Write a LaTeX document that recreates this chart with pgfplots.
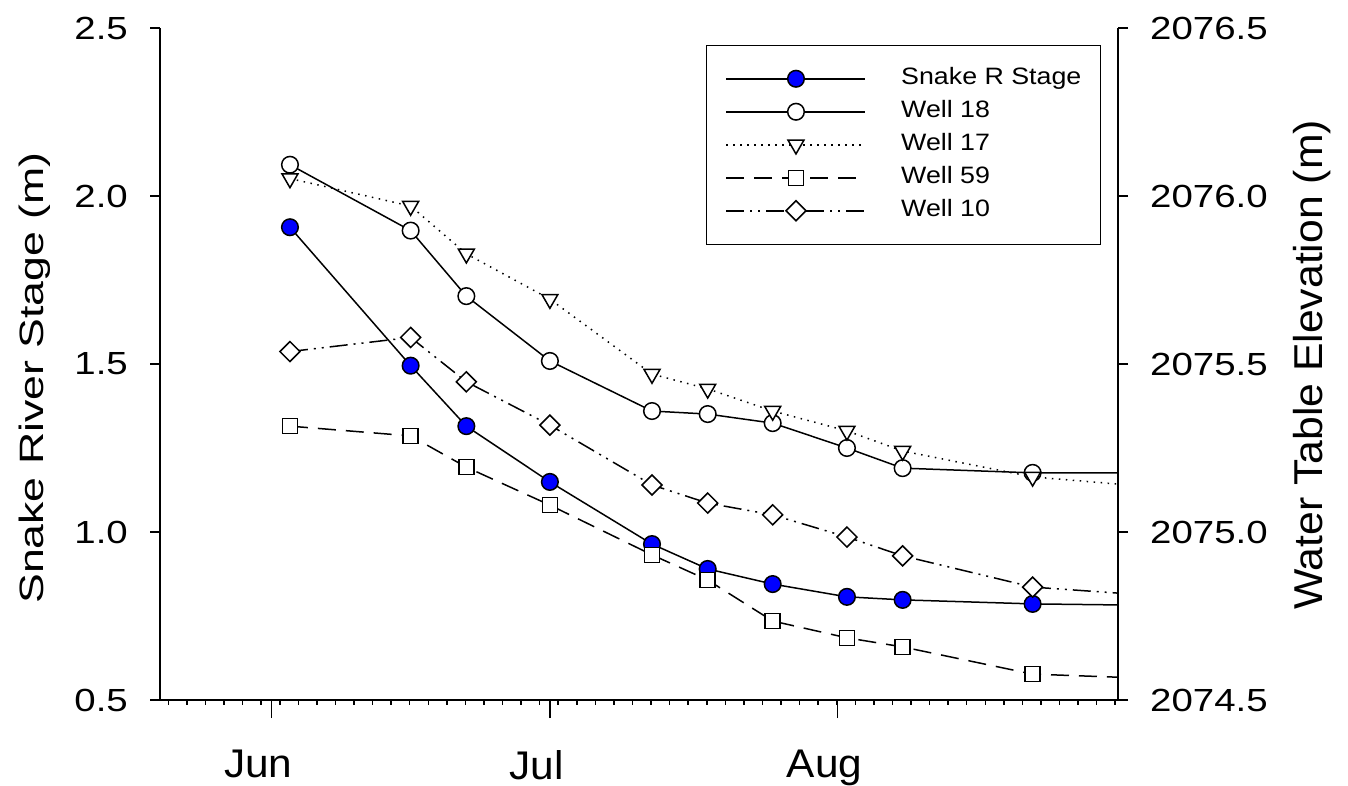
\documentclass[border=0pt]{standalone}
\usepackage{pgfplots}
\usepackage{pgfplotstable}
\pgfplotsset{compat=1.18}
\usepackage{fontspec}
\setmainfont{Liberation Sans}
\newfontfamily\ytf[FakeStretch=1.2]{Liberation Sans}
\newfontfamily\xtf[FakeStretch=1.06]{Liberation Sans}
\newfontfamily\lylf[FakeStretch=1.32]{Liberation Sans}
\newfontfamily\rylf[FakeStretch=1.06]{Liberation Sans}
\newfontfamily\lgf[FakeStretch=1.13]{Liberation Sans}

% x = days after 1 June
\pgfplotstableread{
x   snake  w18      w17      w59      w10
2   1.907  2076.093 2076.052 2075.315 2075.537
15  1.495  2075.897 2075.970 2075.286 2075.579
21  1.315  2075.702 2075.828 2075.193 2075.447
30  1.149  2075.509 2075.693 2075.080 2075.318
41  0.964  2075.360 2075.470 2074.932 2075.140
47  0.890  2075.351 2075.426 2074.857 2075.086
54  0.845  2075.324 2075.360 2074.735 2075.051
62  0.807  2075.250 2075.301 2074.685 2074.985
68  0.798  2075.190 2075.241 2074.658 2074.929
82  0.786  2075.176 2075.164 2074.577 2074.836
100 0.780  2075.176 2075.122 2074.559 2074.801
}\data

\begin{document}
\begin{tikzpicture}
\useasboundingbox (0,0) rectangle (1348pt,786pt);
\pgfplotsset{
  common/.style={at={(160pt,86pt)}, anchor=south west, scale only axis,
    width=958pt, height=672pt, xmin=-12, xmax=91.2,
    tick align=outside,
    axis line style={line width=1.5pt, black},
    tick style={line width=1.5pt, black},
    minor tick style={line width=1.5pt, black},
    /pgf/number format/.cd, fixed, fixed zerofill, precision=1, 1000 sep={}, assume math mode=true},
  legend image code/.code={\draw[mark repeat=2,mark phase=2,#1] plot coordinates {(0pt,0pt) (69.5pt,0pt) (139pt,0pt)};},
}
% x axis
\begin{axis}[common, ymin=0.5, ymax=2.5, axis x line*=bottom, axis y line=none,
  xtick={0,30,61}, xticklabels={Jun,Jul,Aug},
  minor xtick={-11.1,-9.1,...,90.95},
  major tick length=18pt, minor tick length=5pt,
  xticklabel style={font=\xtf\fontsize{40}{48}\selectfont, inner sep=0pt, anchor=north, xshift=-13pt, yshift=-32pt}]
\end{axis}
% left axis
\begin{axis}[common, ymin=0.5, ymax=2.5, axis x line=none, axis y line*=left,
  ytick={0.5,1.0,1.5,2.0,2.5}, major tick length=10pt,
  yticklabel style={font=\ytf\fontsize{32}{38}\selectfont, inner sep=0pt, anchor=east, xshift=-22pt},
  ylabel={Snake River Stage (m)},
  ylabel style={font=\lylf\fontsize{33.8}{40}\selectfont, at={(axis description cs:-0.1305,0.479)}, anchor=center, inner sep=0pt}]
\addplot[black, line width=1.5pt, mark=*, mark size=8.3pt, mark options={solid, fill=blue, draw=black, line width=1.5pt}] table[x=x, y=snake] {\data};
\end{axis}
% right axis
\begin{axis}[common, ymin=2074.5, ymax=2076.5, axis x line=none, axis y line*=right,
  ytick={2074.5,2075.0,2075.5,2076.0,2076.5}, major tick length=10pt,
  yticklabel style={font=\ytf\fontsize{32}{38}\selectfont, inner sep=0pt, anchor=west, xshift=22pt},
  ylabel={Water Table Elevation (m)},
  ylabel style={font=\rylf\fontsize{40.3}{48}\selectfont, at={(axis description cs:1.2025,0.4985)}, anchor=center, rotate=0, inner sep=0pt},
  legend style={at={(axis description cs:0.570,0.979)}, anchor=north west, yshift=-2.5pt,
    draw=black, line width=1.3pt, fill=white, inner xsep=19pt, inner ysep=22.5pt,
    row sep=11pt, column sep=35pt,
    font=\lgf\fontsize{23.7}{28}\selectfont,
    nodes={inner sep=0pt, text height=17pt, text depth=5pt}},
  legend cell align=left]
\addlegendimage{black, line width=1.5pt, mark=*, mark size=8.3pt, mark options={solid, fill=blue, draw=black, line width=1.5pt}}
\addlegendentry{Snake R Stage}
\addplot[black, line width=1.5pt, mark=*, mark size=8.3pt, mark options={solid, fill=white, draw=black, line width=1.5pt}] table[x=x, y=w18] {\data};
\addlegendentry{Well 18}
\addplot[black, line width=1.5pt, dash pattern=on 1.5pt off 5.5pt, mark=triangle*, mark size=9.2pt, mark options={solid, rotate=180, fill=white, draw=black, line width=1.5pt}] table[x=x, y=w17] {\data};
\addlegendentry{Well 17}
\addplot[black, line width=1.5pt, dash pattern=on 18pt off 10pt, mark=square*, mark size=7.5pt, mark options={solid, fill=white, draw=black, line width=1.5pt}] table[x=x, y=w59] {\data};
\addlegendentry{Well 59}
\addplot[black, line width=1.5pt, dash pattern=on 18pt off 6pt on 2pt off 6pt on 2pt off 6pt, mark=square*, mark size=7.07pt, mark options={solid, rotate=45, fill=white, draw=black, line width=1.5pt}] table[x=x, y=w10] {\data};
\addlegendentry{Well 10}
\end{axis}
\end{tikzpicture}
\end{document}
